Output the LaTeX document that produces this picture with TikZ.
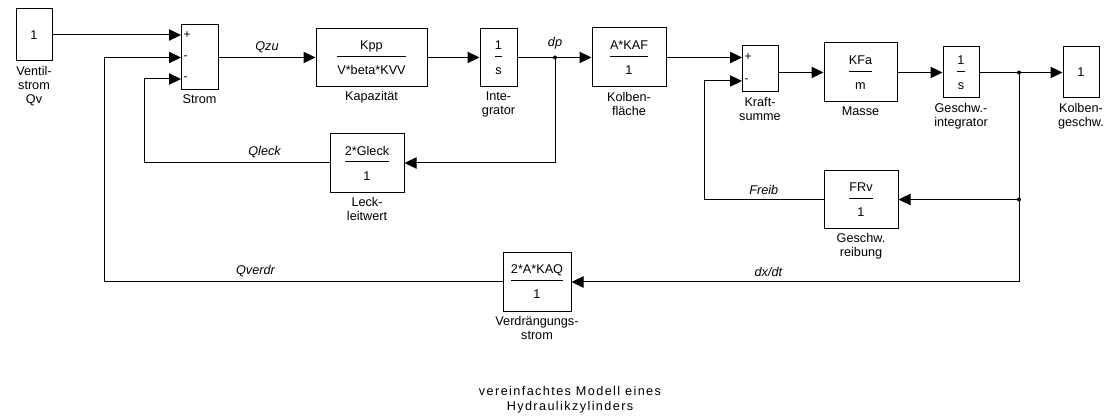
\documentclass[tikz,border=0pt]{standalone}
\usepackage{fontspec}
\setmainfont{Liberation Sans}
\usepackage{amsmath}
\usetikzlibrary{arrows.meta,positioning,calc}
\newcommand{\blkfrac}[2]{$\genfrac{}{}{0.75pt}{0}%
  {\text{#1}\rule[-2.5pt]{0pt}{2.5pt}}{\rule{0pt}{11pt}\text{#2}}$}

\begin{document}
\begin{tikzpicture}[
  x=0.75pt,y=-0.75pt,line width=0.75pt,
  blk/.style={rectangle,draw,inner sep=1pt,font=\fontsize{9.5}{10.5}\selectfont},
  sz/.style 2 args={minimum width=#1*0.75pt,minimum height=#2*0.75pt},
  lbl/.style={below=2pt of #1,align=center,inner sep=1pt,
    font=\fontsize{9.5}{10.5}\selectfont},
  sig/.style={font=\fontsize{9.5}{10.5}\selectfont\itshape},
  sgn/.style={right,inner sep=1.5pt,font=\fontsize{9}{10}\selectfont},
  dot/.style={circle,fill,inner sep=0pt,minimum size=3pt},
  ar/.style={-{Triangle[length=9pt,width=8.5pt]}}
]
\fill[white] (0,0) rectangle (1109,416);
\useasboundingbox (0,0) rectangle (1109,416);

\node[blk,sz={36}{52}]  (vq)    at (34,35)      {1};
\node[blk,sz={37}{65}]  (strom) at (199.5,57.5) {};
\node[blk,sz={111}{58}] (kap)   at (371.5,57.5) {\blkfrac{Kpp}{V*beta*KVV}};
\node[blk,sz={37}{58}]  (integ) at (498.5,57.5) {\blkfrac{1}{s}};
\node[blk,sz={74}{59}]  (kolbf) at (629,57.5)   {\blkfrac{A*KAF}{1}};
\node[blk,sz={36}{46}]  (kraft) at (760,69)     {};
\node[blk,sz={73}{59}]  (masse) at (860.5,72.5) {\blkfrac{KFa}{m}};
\node[blk,sz={36}{51}]  (gint)  at (961,72.5)   {\blkfrac{1}{s}};
\node[blk,sz={36}{51}]  (kg)    at (1081,72.5)  {1};
\node[blk,sz={74}{59}]  (leck)  at (367,163)    {\blkfrac{2*Gleck}{1}};
\node[blk,sz={74}{58}]  (frv)   at (861,199.5)  {\blkfrac{FRv}{1}};
\node[blk,sz={68}{59}]  (verdr) at (537,282)    {\blkfrac{2*A*KAQ}{1}};

\node[lbl=vq]    (vqt)    {Ventil-\\strom\\Qv};
\node[lbl=strom] (stromt) {Strom};
\node[lbl=kap]   (kapt)   {Kapazität};
\node[lbl=integ] (integt) {Inte-\\grator};
\node[lbl=kolbf] (kolbft) {Kolben-\\fläche};
\node[lbl=kraft] (kraftt) {Kraft-\\summe};
\node[lbl=masse] (masset) {Masse};
\node[lbl=gint]  (gintt)  {Geschw.-\\integrator};
\node[lbl=kg]    (kgt)    {Kolben-\\geschw.};
\node[lbl=leck]  (leckt)  {Leck-\\leitwert};
\node[lbl=frv]   (frvt)   {Geschw.\\reibung};
\node[lbl=verdr] (verdrt) {Verdrängungs-\\strom};

\coordinate (strom-in1) at (181,35);
\coordinate (strom-in2) at (181,57.5);
\coordinate (strom-in3) at (181,79);
\coordinate (kraft-in1) at (742,57.5);
\coordinate (kraft-in2) at (742,81);
\coordinate (dp) at (555,57.5);
\coordinate (j1) at (1019,72.5);
\coordinate (j2) at (j1 |- frv);

\node[sgn] (sp1) at (strom-in1) {+};
\node[sgn] (sm2) at (strom-in2) {-};
\node[sgn] (sm3) at (strom-in3) {-};
\node[sgn] (kp1) at (kraft-in1) {+};
\node[sgn] (km2) at (kraft-in2) {-};

\draw[ar] (vq) -- (strom-in1);
\draw[ar] (strom) -- node[sig,above]{Qzu} (kap);
\draw[ar] (kap) -- (integ);
\draw[ar] (integ) -- (kolbf);
\draw[ar] (kolbf) -- (kraft-in1);
\draw[ar] (kraft.east |- masse) -- (masse);
\draw[ar] (masse) -- (gint);
\draw[ar] (gint) -- (kg);
\draw[ar] (dp) |- (leck);
\draw[ar] (leck) -| node[sig,above,pos=0.175]{Qleck} ($(strom-in3)+(-37,0)$) -- (strom-in3);
\draw[ar] (j1) |- node[sig,above,pos=0.78]{dx/dt} (verdr);
\draw[ar] (j2) -- (frv);
\draw[ar] (verdr) -| node[sig,above,pos=0.31]{Qverdr} ($(strom-in2)+(-77,0)$) -- (strom-in2);
\draw[ar] (frv) -| node[sig,above,pos=0.25]{Freib} ($(kraft-in2)+(-38,0)$) -- (kraft-in2);

\node[dot,label={[sig,inner sep=4pt]above:dp}] (dpd) at (dp) {};
\node[dot] (j1d) at (j1) {};
\node[dot] (j2d) at (j2) {};

\node[align=center,font=\fontsize{9.5}{11}\selectfont\addfontfeature{LetterSpace=11}]
  (title) at (570,400) {vereinfachtes Modell eines\\Hydraulikzylinders};
\end{tikzpicture}
\end{document}
